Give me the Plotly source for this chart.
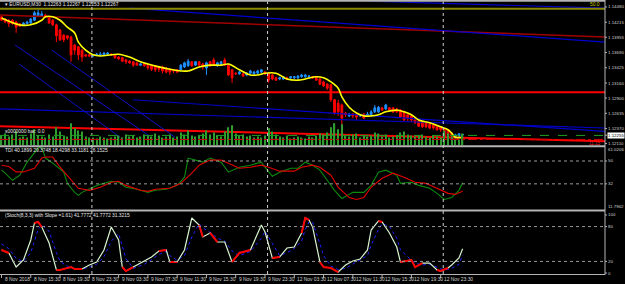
import plotly.graph_objects as go

# ---------------- data ----------------
bars = list(range(127))
opens = [1.1431,1.1427,1.1425,1.1425,1.1422,1.1419,1.1417,1.1419,1.1420,1.1425,1.1432,1.1432,1.1434,1.1431,1.1425,
         1.1417,1.1408,1.1399,1.1398,1.1396,1.1382,1.1379,1.1373,1.1365,1.1365,1.1363,1.1365,1.1365,1.1365,1.1366,
         1.1366,1.1365,1.1361,1.1360,1.1356,1.1354,1.1353,1.1351,1.1347,1.1349,1.1347,1.1346,1.1346,1.1344,1.1344,
         1.1342,1.1340,1.1339,1.1339,1.1339,1.1344,1.1346,1.1353,1.1347,1.1353,1.1349,1.1342,1.1353,1.1356,1.1346,
         1.1349,1.1356,1.1347,1.1339,1.1333,1.1332,1.1332,1.1330,1.1333,1.1332,1.1333,1.1335,1.1335,1.1333,1.1330,
         1.1325,1.1323,1.1323,1.1325,1.1325,1.1325,1.1325,1.1327,1.1327,1.1327,1.1327,1.1327,1.1323,1.1318,1.1314,
         1.1313,1.1287,1.1281,1.1278,1.1264,1.1259,1.1262,1.1262,1.1259,1.1262,1.1259,1.1261,1.1266,1.1266,1.1273,
         1.1271,1.1273,1.1273,1.1271,1.1269,1.1266,1.1261,1.1259,1.1252,1.1250,1.1248,1.1247,1.1245,1.1243,1.1241,
         1.1240,1.1236,1.1235,1.1229,1.1222,1.1224,1.12263]
highs = [1.1432,1.1429,1.1427,1.1427,1.1424,1.1420,1.1422,1.1424,1.1429,1.1441,1.1443,1.1441,1.1436,1.1432,1.1427,
         1.1419,1.1410,1.1401,1.1399,1.1398,1.1384,1.1380,1.1375,1.1366,1.1366,1.1366,1.1368,1.1370,1.1370,1.1370,
         1.1368,1.1366,1.1363,1.1361,1.1358,1.1356,1.1354,1.1353,1.1351,1.1351,1.1349,1.1347,1.1347,1.1346,1.1346,
         1.1344,1.1342,1.1340,1.1340,1.1349,1.1353,1.1358,1.1354,1.1354,1.1354,1.1351,1.1353,1.1354,1.1360,1.1353,
         1.1354,1.1360,1.1349,1.1340,1.1335,1.1337,1.1333,1.1335,1.1339,1.1337,1.1339,1.1340,1.1337,1.1335,1.1332,
         1.1327,1.1327,1.1328,1.1327,1.1328,1.1328,1.1330,1.1332,1.1332,1.1330,1.1328,1.1328,1.1325,1.1320,1.1316,
         1.1314,1.1288,1.1287,1.1280,1.1266,1.1264,1.1264,1.1264,1.1262,1.1264,1.1266,1.1269,1.1278,1.1276,1.1274,
         1.1280,1.1274,1.1274,1.1273,1.1271,1.1268,1.1262,1.1261,1.1254,1.1252,1.1250,1.1248,1.1247,1.1245,1.1243,
         1.1241,1.1238,1.1236,1.1231,1.1228,1.1229,1.12267]
lows = [1.1424,1.1420,1.1413,1.1417,1.1403,1.1413,1.1415,1.1417,1.1419,1.1424,1.1431,1.1431,1.1429,1.1419,1.1415,
        1.1387,1.1389,1.1387,1.1391,1.1353,1.1365,1.1356,1.1353,1.1361,1.1361,1.1361,1.1363,1.1363,1.1363,1.1365,
        1.1363,1.1358,1.1356,1.1353,1.1349,1.1349,1.1344,1.1346,1.1346,1.1344,1.1339,1.1337,1.1335,1.1335,1.1333,
        1.1333,1.1330,1.1333,1.1333,1.1337,1.1342,1.1344,1.1344,1.1346,1.1346,1.1339,1.1330,1.1344,1.1346,1.1344,
        1.1347,1.1346,1.1328,1.1316,1.1330,1.1330,1.1327,1.1328,1.1332,1.1330,1.1332,1.1333,1.1330,1.1316,1.1321,
        1.1320,1.1321,1.1321,1.1321,1.1323,1.1323,1.1323,1.1325,1.1325,1.1325,1.1323,1.1320,1.1313,1.1309,1.1304,
        1.1283,1.1261,1.1259,1.1240,1.1257,1.1257,1.1255,1.1252,1.1257,1.1254,1.1257,1.1259,1.1264,1.1264,1.1268,
        1.1269,1.1268,1.1264,1.1264,1.1255,1.1250,1.1250,1.1248,1.1245,1.1240,1.1238,1.1238,1.1236,1.1235,1.1233,
        1.1231,1.1217,1.1221,1.1222,1.1221,1.1222,1.12253]
closes = [1.1425,1.1422,1.1419,1.1419,1.1413,1.1415,1.1420,1.1422,1.1427,1.1438,1.1438,1.1436,1.1431,1.1420,1.1417,
          1.1398,1.1391,1.1391,1.1394,1.1365,1.1373,1.1365,1.1361,1.1363,1.1363,1.1365,1.1366,1.1366,1.1368,1.1368,
          1.1365,1.1360,1.1358,1.1354,1.1353,1.1351,1.1347,1.1347,1.1349,1.1346,1.1342,1.1340,1.1339,1.1340,1.1337,
          1.1335,1.1335,1.1337,1.1335,1.1347,1.1351,1.1354,1.1346,1.1353,1.1347,1.1344,1.1351,1.1346,1.1347,1.1351,
          1.1353,1.1347,1.1330,1.1325,1.1332,1.1335,1.1328,1.1333,1.1337,1.1335,1.1337,1.1339,1.1332,1.1321,1.1323,
          1.1321,1.1325,1.1327,1.1323,1.1327,1.1327,1.1328,1.1330,1.1330,1.1328,1.1325,1.1321,1.1314,1.1311,1.1307,
          1.1287,1.1264,1.1266,1.1255,1.1261,1.1262,1.1259,1.1257,1.1261,1.1255,1.1262,1.1266,1.1273,1.1274,1.1269,
          1.1278,1.1269,1.1266,1.1266,1.1257,1.1252,1.1254,1.1252,1.1247,1.1241,1.1240,1.1240,1.1238,1.1238,1.1235,
          1.1235,1.1222,1.1222,1.1224,1.1226,1.1228,1.12267]
volumes = [1750,2100,1575,1925,2450,1400,1575,1400,2100,2800,1750,1575,1400,1925,1575,
           3150,2450,1750,1575,3850,2975,2625,2450,1575,1400,
           1400,1225,1575,1400,1225,1400,1575,1750,1400,1925,1575,1750,1400,1575,1925,1750,1575,2100,1750,1400,1575,1925,1400,1575,
           2275,1925,2625,1750,1575,1750,2100,2625,1925,2275,1750,1575,2450,
           3150,3500,2100,1750,1925,1575,1750,1400,1575,1400,1750,2975,2450,1925,
           1575,1400,1750,1225,1400,1575,1400,1225,1575,1400,1750,2100,1925,2275,
           3150,3850,2800,3675,1750,1575,1925,2100,1400,1750,
           1575,1750,2275,2100,1575,1925,1400,1575,1750,2275,2450,1925,1750,
           1575,1750,1925,1575,1400,1750,1575,1400,2625,2100,1575,1225,1050,2100]
vol_ma_level = 1750
vol_sig_level = 1050

ma_bar = [0,5,8,11,12,14,16,18,20,21,23,25,27,30,32,35,38,40,43,46,49,51,54,57,60,62,65,68,70,72,75,78,81,83,86,88,
          90,92,93,95,97,99,101,103,105,108,110,112,114,117,120,122,123,124,126]
ma_val = [1.1429,1.1417,1.1417,1.1425,1.1431,1.1431,1.1425,1.1413,1.1403,1.1387,1.1373,1.1365,1.1363,1.1365,1.1366,
          1.1361,1.1353,1.1349,1.1344,1.1340,1.1337,1.1337,1.1344,1.1347,1.1347,1.1349,1.1339,1.1330,1.1330,1.1333,
          1.1333,1.1323,1.1321,1.1323,1.1327,1.1325,1.1318,1.1307,1.1292,1.1274,1.1264,1.1259,1.1259,1.1261,1.1266,
          1.1269,1.1266,1.1261,1.1252,1.1247,1.1240,1.1235,1.1229,1.1222,1.1222]

# horizontal levels and trend lines (price)
fib_50 = 1.1445
support_level = 1.1300
trend_color = ["#a00000", "#0000d0", "#0000d0", "#0000c8", "#0000c8", "#ff0000",
               "#1010c8", "#1010c8", "#1010c8"]
trend_b0 = [-0.4, 35.0, 100.7, -0.4, 35.9, -0.4, 3.7, 13.8, 4.8]
trend_p0 = [1.1434, 1.1446, 1.1458, 1.1271, 1.1287, 1.1241, 1.1382, 1.1373, 1.1349]
trend_b1 = [164.9, 164.9, 164.9, 164.9, 164.9, 164.9, 40.5, 47.4, 32.4]
trend_p1 = [1.1396, 1.1387, 1.1446, 1.1238, 1.1232, 1.1215, 1.1224, 1.1222, 1.1222]
trend_w = [1.5, 1.2, 1.2, 1.2, 1.2, 2, 1, 1, 1]

# TDI
tdi_sig_bar = [0,2,4,6,9,11,12,14,16,19,21,24,27,30,32,34,38,40,42,46,49,52,54,57,60,62,65,68,71,73,76,80,82,85,87,
               90,92,95,97,99,101,104,107,110,112,113,116,119,122,124,126]
tdi_sig = [46.7,45.6,41.4,41.4,44.3,52.3,53.1,53.1,45.1,34.8,28.5,26.9,29.3,33.2,34.0,30.8,26.9,26.1,27.7,28.5,32.4,
           40.4,46.7,50.7,50.7,48.3,44.3,45.1,46.7,45.1,42.0,42.0,45.1,46.7,45.1,38.8,29.3,21.3,19.7,21.3,29.3,36.4,
           40.4,37.2,34.8,33.2,32.4,28.5,24.5,23.7,26.15]
tdi_rsi_bar = [0,1,3,5,7,9,10,11,12,14,17,18,20,21,22,25,27,30,32,34,37,40,42,45,48,50,51,53,55,57,60,62,65,68,71,72,
               74,76,79,81,83,85,87,89,91,93,96,99,101,103,105,108,109,112,114,117,119,121,123,125,126]
tdi_rsi = [42.8,40.4,34.8,38.8,49.1,56.3,60.2,61.0,52.3,48.3,41.2,32.4,25.3,22.9,25.3,29.3,31.6,34.0,33.2,29.3,27.7,
           25.3,26.9,27.7,30.8,37.2,52.3,50.7,49.1,52.3,49.1,41.2,45.1,46.7,49.1,45.1,38.0,41.2,44.3,44.3,49.1,46.7,
           42.8,34.8,26.9,20.5,25.3,25.3,30.8,41.2,42.8,38.8,32.4,33.2,30.8,28.5,24.5,19.7,21.3,26.9,33.12]
tdi_levels = [50, 32]
tdi_min, tdi_max = 11.7962, 61.0206

# Stochastic
st_bar = [0,2,4,6,8,9,10,11,13,15,16,19,20,22,24,26,28,30,32,33,34,36,39,41,43,45,46,48,50,52,54,55,57,59,61,63,65,
          68,71,72,74,76,78,80,82,83,84,85,87,88,90,92,94,96,98,100,101,103,104,106,108,109,112,113,115,117,119,120,
          122,123,125,126]
st_main = [39.7,34.5,10.3,22.4,56.9,86.2,87.9,79.3,51.7,5.2,5.2,10.3,6.9,6.9,13.8,19.0,39.7,79.3,56.9,10.3,3.4,10.3,
           20.7,27.6,37.9,39.7,19.0,19.0,39.7,94.8,82.8,62.1,69.0,53.4,53.4,19.0,34.5,39.7,82.8,70.7,25.9,27.6,43.1,
           44.8,69.0,94.8,91.4,79.3,19.0,10.3,8.6,1.7,13.8,20.7,24.1,39.7,74.1,89.7,87.9,69.0,44.8,19.0,22.4,10.3,
           17.2,17.2,5.2,3.4,8.6,13.8,25.9,41.78]
st_signal = [50,42,25,20,35,55,75,83,72,35,20,8,8,7,10,15,28,55,68,45,25,8,15,23,32,37,30,22,30,62,85,78,70,60,55,
             38,30,37,60,72,50,30,35,42,55,75,88,88,50,30,12,6,8,15,22,30,48,75,85,80,60,40,22,17,14,15,10,7,6,8,15,
             31.32]
st_red_from = [0, 9, 15, 33, 43, 46, 54, 57, 63, 74, 82, 87, 103, 109, 119]
st_red_to = [2, 11, 22, 36, 45, 48, 55, 59, 68, 76, 84, 92, 104, 115, 122]

day_start_bar = [25, 73, 121]
time_bar = [0, 8, 16, 24, 32, 40, 48, 56, 64, 72, 80, 88, 96, 104, 112, 120]
time_text = ["8 Nov 2018", "8 Nov 15:30", "8 Nov 19:30", "8 Nov 23:30", "9 Nov 03:30", "9 Nov 07:30",
             "9 Nov 11:30", "9 Nov 15:30", "9 Nov 19:30", "9 Nov 23:30", "12 Nov 03:30", "12 Nov 07:30",
             "12 Nov 11:30", "12 Nov 15:30", "12 Nov 19:30", "12 Nov 23:30"]
price_ticks = [1.14480, 1.14215, 1.13955, 1.13690, 1.13425, 1.13160, 1.12900, 1.12635, 1.12370, 1.12110]
bid_price = 1.12255
tdi_ticks = [50, 32]
st_ticks = [100, 80, 20, 0]
st_levels = [80, 20]

# ---------------- layout geometry ----------------
W, H = 625, 284
def py(y):  # pixel row -> paper fraction
    return 1 - y / H

FONT = "Liberation Sans, Arial"
FS = 4.9
FS_R = 4.4
X_RANGE = [-0.41, 164.9]
MAIN = (1.5, 145.5)
TDI = (147.0, 209.5)
STO = (211.5, 274.0)
PRICE_RANGE = [1.12076, 1.14575]
VOL_RANGE = [0, 25000]
ST_RANGE = [-1.7, 106.0]

fig = go.Figure()

# volume
fig.add_trace(go.Bar(x=bars, y=volumes, marker_color="#2f9e2f", marker_line_width=0, width=0.35,
                     xaxis="x", yaxis="y2", hoverinfo="skip"))

# trend lines
for c, b0, p0, b1, p1, w in zip(trend_color, trend_b0, trend_p0, trend_b1, trend_p1, trend_w):
    fig.add_trace(go.Scatter(x=[b0, b1], y=[p0, p1], mode="lines", line=dict(color=c, width=w),
                             xaxis="x", yaxis="y", hoverinfo="skip"))
fig.add_trace(go.Scatter(x=X_RANGE, y=[support_level] * 2, mode="lines", line=dict(color="#ff0000", width=2),
                         xaxis="x", yaxis="y"))
fig.add_trace(go.Scatter(x=X_RANGE, y=[fib_50] * 2, mode="lines", line=dict(color="#8a8a00", width=2),
                         xaxis="x", yaxis="y"))

# candles
fig.add_trace(go.Candlestick(x=bars, open=opens, high=highs, low=lows, close=closes,
                             increasing=dict(line=dict(color="#1e90ff", width=1), fillcolor="#1e90ff"),
                             decreasing=dict(line=dict(color="#ff0000", width=1), fillcolor="#ff0000"),
                             whiskerwidth=0, xaxis="x", yaxis="y"))
# MA
fig.add_trace(go.Scatter(x=ma_bar, y=ma_val, mode="lines", line=dict(color="#ffff00", width=1.6, shape="spline"),
                         xaxis="x", yaxis="y"))

# TDI
fig.add_trace(go.Scatter(x=tdi_rsi_bar, y=tdi_rsi, mode="lines", line=dict(color="#0b8a0b", width=1.1),
                         xaxis="x2", yaxis="y3"))
fig.add_trace(go.Scatter(x=tdi_sig_bar, y=tdi_sig, mode="lines", line=dict(color="#e00000", width=1.1),
                         xaxis="x2", yaxis="y3"))

# Stochastic
fig.add_trace(go.Scatter(x=st_bar, y=st_signal, mode="lines", line=dict(color="#2020ff", width=1, dash="dot"),
                         xaxis="x3", yaxis="y4"))
fig.add_trace(go.Scatter(x=st_bar, y=st_main, mode="lines", line=dict(color="#d8f5d0", width=1.2),
                         xaxis="x3", yaxis="y4"))
for a, b in zip(st_red_from, st_red_to):
    xs = [bb for bb in st_bar if a <= bb <= b]
    ys = [v for bb, v in zip(st_bar, st_main) if a <= bb <= b]
    fig.add_trace(go.Scatter(x=xs, y=ys, mode="lines", line=dict(color="#ff0000", width=2),
                             xaxis="x3", yaxis="y4"))

shapes = []
grey = "#b4b4b4"
# panel frames
for yy in (0.8, 146.2, 210.4):
    shapes.append(dict(type="line", xref="paper", yref="paper", x0=0, x1=1, y0=py(yy), y1=py(yy),
                       line=dict(color=grey, width=2)))
shapes.append(dict(type="line", xref="paper", yref="paper", x0=0, x1=1, y0=py(274.5), y1=py(274.5),
                   line=dict(color=grey, width=1)))
shapes.append(dict(type="line", xref="paper", yref="paper", x0=1, x1=1, y0=py(275), y1=py(0),
                   line=dict(color=grey, width=1)))
# day separators
for b in day_start_bar:
    shapes.append(dict(type="line", xref="x", yref="paper", x0=b - 0.3, x1=b - 0.3, y0=py(274), y1=py(1.5),
                       line=dict(color="#d0d0d0", width=1, dash="dot")))
# volume levels
shapes.append(dict(type="line", xref="paper", yref="y2", x0=0, x1=1, y0=vol_ma_level, y1=vol_ma_level,
                   line=dict(color="#1f9f1f", width=1, dash="dash")))
shapes.append(dict(type="line", xref="paper", yref="y2", x0=0, x1=1, y0=vol_sig_level, y1=vol_sig_level,
                   line=dict(color="#d00000", width=1, dash="dashdot")))
# indicator levels
for lv in tdi_levels:
    shapes.append(dict(type="line", xref="paper", yref="y3", x0=0, x1=1, y0=lv, y1=lv,
                       line=dict(color="#9a9a9a", width=1, dash="dot")))
for lv in st_levels:
    shapes.append(dict(type="line", xref="paper", yref="y4", x0=0, x1=1, y0=lv, y1=lv,
                       line=dict(color="#9a9a9a", width=1, dash="dot")))

ann = []
def right_label(text, yref, yval, color="#d0d0d0", bg=None):
    ann.append(dict(text=text, xref="paper", x=1, xanchor="left", xshift=1.5, yref=yref, y=yval,
                    yanchor="middle", showarrow=False, font=dict(family=FONT, size=FS_R, color=color),
                    bgcolor=bg, borderpad=0))
    if yref != "paper":
        shapes.append(dict(type="line", xref="paper", yref=yref, x0=1, x1=1 + 2 / 605, y0=yval, y1=yval,
                           line=dict(color=grey, width=1)))

for p in price_ticks:
    right_label(f"{p:.5f}", "y", p)
right_label(f"{bid_price:.5f}", "y", bid_price, color="#000000", bg="#ffffff")
right_label(f"{tdi_max:.4f}", "paper", py(149.5))
for t in tdi_ticks:
    right_label(str(t), "y3", t)
right_label(f"{tdi_min:.4f}", "paper", py(206))
for t in st_ticks:
    right_label(str(t), "y4", t)

# fib text
ann.append(dict(text="50.0", xref="paper", x=1, xanchor="right", xshift=-3, yref="y", y=fib_50, yanchor="bottom",
                showarrow=False, font=dict(family=FONT, size=FS, color="#c8c800")))
ann.append(dict(text="11.15", xref="paper", x=1, xanchor="right", xshift=-3, yref="paper", y=py(143),
                yanchor="middle", showarrow=False, font=dict(family=FONT, size=4.5, color="#ff2020")))

# titles
def title(text, ypx):
    ann.append(dict(text=text, xref="paper", x=0, xanchor="left", xshift=3, yref="paper", y=py(ypx),
                    yanchor="middle", showarrow=False, font=dict(family=FONT, size=FS, color="#e8e8e8")))
title("▾ EURUSD,M30  1.12263 1.12267 1.12253 1.12267", 4.5)
title("s0000000 bar: 0.0", 131.5)
title("TDI 40.1899 29.3748 18.4298 33.1181 26.1525", 150.5)
title("(Stoch(8,3,3) with Slope =1.61) 41.7772 41.7772 31.3215", 215)

# time labels
for b, t in zip(time_bar, time_text):
    ann.append(dict(text=t, xref="x", x=b, xanchor="left", xshift=1, yref="paper", y=py(279.5), yanchor="middle",
                    showarrow=False, font=dict(family=FONT, size=FS, color="#d0d0d0")))
    shapes.append(dict(type="line", xref="x", yref="paper", x0=b, x1=b, y0=py(275), y1=py(278),
                       line=dict(color=grey, width=1)))

ax_common = dict(showgrid=False, zeroline=False, showticklabels=False, ticks="", showline=False, fixedrange=True)
fig.update_layout(
    width=W, height=H, margin=dict(l=0, r=20, t=0, b=0),
    paper_bgcolor="#000000", plot_bgcolor="#000000", showlegend=False,
    xaxis=dict(domain=[0, 1], range=X_RANGE, anchor="y", rangeslider=dict(visible=False), **ax_common),
    yaxis=dict(domain=[py(MAIN[1]), py(MAIN[0])], range=PRICE_RANGE, anchor="x", **ax_common),
    yaxis2=dict(domain=[py(MAIN[1]), py(MAIN[0])], range=VOL_RANGE, overlaying="y", anchor="x", **ax_common),
    xaxis2=dict(domain=[0, 1], range=X_RANGE, anchor="y3", matches="x", **ax_common),
    yaxis3=dict(domain=[py(TDI[1]), py(TDI[0])], range=[tdi_min, tdi_max], anchor="x2", **ax_common),
    xaxis3=dict(domain=[0, 1], range=X_RANGE, anchor="y4", matches="x", **ax_common),
    yaxis4=dict(domain=[py(STO[1]), py(STO[0])], range=ST_RANGE, anchor="x3", **ax_common),
    shapes=shapes, annotations=ann,
)

fig.write_html("out.html")
